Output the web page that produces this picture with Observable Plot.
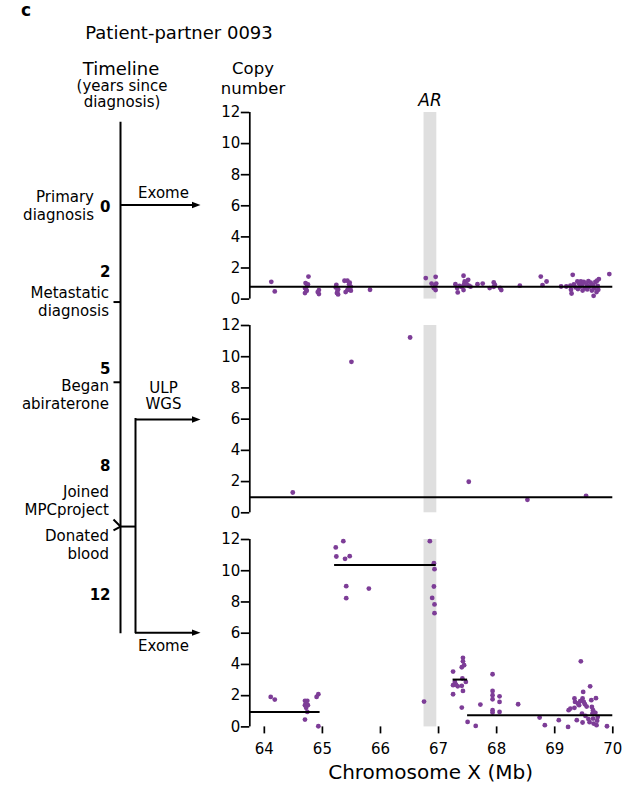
<!DOCTYPE html>
<html><head><meta charset="utf-8">
<script src="https://cdn.jsdelivr.net/npm/d3@7"></script>
<script src="https://cdn.jsdelivr.net/npm/@observablehq/plot@0.6"></script>
<style>
body{margin:0;background:#fff;}
#fig{position:relative;width:635px;height:788px;overflow:hidden;font-family:"DejaVu Sans",sans-serif;color:#000;background:#fff;}
#fig svg{position:absolute;}
.lbl{position:absolute;white-space:pre;color:#000;}
</style></head><body><div id="fig"></div>
<script>
// ---------------- data ----------------
const panelLetter = "c";
const titleText = "Patient-partner 0093";
const xLabel = "Chromosome X (Mb)";
const yLabel = "Copy\nnumber";
const timelineTitle = "Timeline";
const timelineSubtitle = "(years since\ndiagnosis)";
const xDomain = [63.75, 70];
const xTicks = [64, 65, 66, 67, 68, 69, 70];
const yTicks = [0, 2, 4, 6, 8, 10, 12];
const arBand = {gene: "AR", start: 66.75, end: 66.97};

// Sample 1: Exome at diagnosis  [Mb, copy number]
const sample1Points = [
  [64.12,1.11],[64.18,0.49],
  [64.76,1.45],[64.71,1.03],[64.74,0.86],[64.70,0.71],[64.73,0.53],[64.70,0.39],[64.75,0.95],[64.72,0.62],
  [64.94,0.58],[64.94,0.32],[64.92,0.45],
  [65.24,0.92],[65.27,0.64],[65.25,0.39],[65.27,0.30],[65.23,0.75],[65.26,0.52],
  [65.38,1.18],[65.43,1.18],[65.46,0.96],[65.49,0.79],[65.43,0.58],[65.49,0.54],[65.40,0.45],[65.45,0.70],[65.47,1.05],
  [65.82,0.60],
  [66.78,1.35],[66.95,1.43],[66.88,1.00],[66.94,0.86],[66.95,0.58],[66.92,0.70],[66.96,1.00],
  [67.29,0.96],[67.32,0.71],[67.33,0.43],[67.36,0.85],[67.43,1.50],[67.45,1.13],[67.51,1.24],[67.44,0.96],[67.52,0.86],[67.43,0.58],[67.40,0.78],[67.48,1.00],[67.55,0.80],
  [67.67,0.96],[67.76,1.00],[67.88,0.71],[67.95,1.07],[67.95,0.79],[67.97,0.92],[68.08,0.58],[68.06,0.72],
  [68.40,0.86],
  [68.76,1.45],[68.79,0.90],[68.86,1.13],
  [69.11,0.81],[69.20,0.81],[69.27,0.86],[69.29,0.36],[69.31,1.56],[69.28,0.60],[69.33,0.95],
  [69.39,1.13],[69.42,0.98],[69.45,1.13],[69.47,0.90],[69.50,1.10],[69.52,0.70],[69.48,0.55],[69.55,0.95],[69.58,1.15],[69.56,0.62],
  [69.60,0.80],[69.62,1.05],[69.64,0.55],[69.66,0.90],[69.67,0.21],[69.68,0.70],[69.70,1.10],[69.72,0.45],[69.74,0.85],[69.76,1.29],
  [69.73,1.18],[69.75,0.60],[69.40,0.65],[69.44,0.80],[69.36,0.75],
  [69.94,1.61]
];
const sample1Segments = [{x1: 63.75, x2: 70, cn: 0.79}];

// Sample 2: ULP-WGS of donated blood
const sample2Points = [[64.49,1.30],[65.50,9.67],[66.51,11.23],[67.52,1.99],[68.53,0.83],[69.54,1.09]];
const sample2Segments = [{x1: 63.75, x2: 70, cn: 1.00}];

// Sample 3: Exome of donated blood
const sample3Points = [
  [64.11,1.92],[64.18,1.75],
  [64.70,1.67],[64.74,1.67],[64.70,1.39],[64.75,1.39],[64.72,1.22],[64.74,0.96],[64.70,0.47],[64.72,1.50],
  [64.90,1.92],[64.93,2.09],[64.93,0.04],
  [65.23,11.49],[65.36,11.89],[65.24,10.91],[65.39,10.76],[65.47,10.93],[65.41,9.01],[65.41,8.24],[65.80,8.86],
  [66.85,11.89],[66.92,10.48],[66.93,10.10],[66.92,8.99],[66.89,8.26],[66.93,7.84],[66.93,7.28],[66.75,1.62],
  [67.25,3.54],[67.42,4.42],[67.42,4.20],[67.40,3.82],[67.44,3.95],[67.25,2.67],[67.30,2.71],[67.28,2.88],[67.33,2.60],
  [67.41,3.10],[67.47,2.88],[67.40,2.63],[67.42,2.30],[67.25,2.09],[67.40,1.24],[67.50,0.32],[67.64,0.06],[67.72,1.43],
  [67.93,3.37],[67.93,2.30],[67.93,2.03],[67.93,1.77],[67.93,1.07],[67.93,0.92],[68.05,1.96],[68.05,1.60],[68.05,0.96],
  [68.37,1.45],[68.74,0.60],[68.83,0.11],[69.07,0.43],[69.23,0.00],[69.24,1.07],[69.27,1.17],
  [69.34,1.82],[69.35,1.60],[69.42,1.39],[69.34,1.22],[69.38,0.43],[69.45,4.20],[69.49,2.24],[69.48,1.82],[69.50,1.60],
  [69.52,1.45],[69.47,0.85],[69.48,0.28],[69.44,1.65],[69.40,1.50],[69.55,1.30],[69.53,0.70],[69.58,0.50],
  [69.61,2.60],[69.63,1.71],[69.64,1.28],[69.66,1.07],[69.65,0.85],[69.66,0.53],[69.67,0.21],[69.71,1.84],[69.74,0.64],
  [69.72,0.11],[69.70,0.90],[69.73,0.40],[69.60,0.30],
  [69.90,0.04]
];
const sample3Segments = [
  {x1: 63.75, x2: 64.96, cn: 0.96},
  {x1: 65.21, x2: 66.96, cn: 10.36},
  {x1: 67.25, x2: 67.50, cn: 3.03},
  {x1: 67.50, x2: 70.00, cn: 0.75}
];

// Timeline (years since diagnosis)
const timelineYears = [0, 2, 5, 8, 12];
const timelineSpan = [-2.56, 13.25];
const events = [
  {label: "Primary\ndiagnosis", year: 0, labelYear: 0, tickYear: null},
  {label: "Metastatic\ndiagnosis", year: 3.0, labelYear: 2.98, tickYear: 3.0},
  {label: "Began\nabiraterone", year: 5.48, labelYear: 5.84, tickYear: 5.48},
  {label: "Joined\nMPCproject", year: 9.94, labelYear: 9.14, tickYear: 9.72},
  {label: "Donated\nblood", year: 9.94, labelYear: 10.5, tickYear: 10.06}
];
const branchYear = 9.94;
const samples = [
  {label: "Exome", year: 0, labelYear: -0.39, fromBranch: false},
  {label: "ULP\nWGS", year: 6.63, labelYear: 5.89, fromBranch: true},
  {label: "Exome", year: 13.22, labelYear: 13.62, fromBranch: true}
];

// ---------------- drawing ----------------
const fig = document.getElementById("fig");
const FONT = "DejaVu Sans";
const purple = "#7d3d97";
const bandGray = "#dfdfdf";
const svgStyle = {background: "transparent", overflow: "visible", fontFamily: FONT, fontSize: "15px", color: "black"};

function label(text, {cx, left, baseline, size, weight = "normal", italic = false, lh}) {
  const d = document.createElement("div");
  d.className = "lbl";
  d.textContent = text;
  const L = lh || size;
  const top = baseline - ((L - 1.164 * size) / 2 + 0.928 * size);
  d.style.cssText += `font-size:${size}px;line-height:${L}px;font-weight:${weight};font-style:${italic ? "italic" : "normal"};top:${top}px;`;
  if (cx != null) { d.style.left = (cx - 200) + "px"; d.style.width = "400px"; d.style.textAlign = "center"; }
  else { d.style.left = left + "px"; }
  fig.appendChild(d);
}

// timeline diagram
const TLX = 120, BRX = 135, ARROW_END = 200, TICK_LEN = 7;
const arrowHead = {draw(ctx) { ctx.moveTo(0, 0); ctx.lineTo(-8.5, -3.2); ctx.lineTo(-8.5, 3.2); ctx.closePath(); }};
const tl = Plot.plot({
  width: 210, height: 788, margin: 0,
  x: {domain: [0, 210], range: [0, 210], axis: null},
  y: {domain: [0, 12], range: [204.5, 592.7], axis: null},
  style: svgStyle,
  marks: [
    Plot.ruleX([TLX], {y1: timelineSpan[0], y2: timelineSpan[1], strokeWidth: 2}),
    Plot.ruleY([branchYear], {x1: TLX, x2: BRX, strokeWidth: 2}),
    Plot.ruleX([BRX], {y1: samples[1].year, y2: samples[2].year, strokeWidth: 2, strokeLinecap: "square"}),
    Plot.ruleY(samples, {y: "year", x1: d => d.fromBranch ? BRX : TLX, x2: ARROW_END - 6, strokeWidth: 2}),
    Plot.dot(samples, {x: () => ARROW_END, y: "year", symbol: arrowHead, fill: "black", stroke: "none", r: 3}),
    Plot.link(events.filter(d => d.tickYear != null), {x1: () => TLX - TICK_LEN, x2: () => TLX, y1: "tickYear", y2: "year", strokeWidth: 2}),
    Plot.text(events, {x: d => d.year === 0 ? 93.5 : 108.5, y: "labelYear", text: "label", textAnchor: "end", lineHeight: 1.2, fontSize: 15}),
    Plot.text(timelineYears, {x: () => 110, y: d => d, dy: 2, text: d => String(d), textAnchor: "end", fontWeight: "bold", fontSize: 15}),
    Plot.text(samples, {x: () => 163, y: "labelYear", text: "label", textAnchor: "middle", lineHeight: 1.1, fontSize: 15})
  ]
});
tl.style.left = "0px"; tl.style.top = "0px";
fig.appendChild(tl);

// copy-number panels
function panel(points, segments, {top, height, marginBottom, showX}) {
  const marks = [
    Plot.rect([arBand], {x1: "start", x2: "end", y1: 0, y2: 12, fill: bandGray}),
    Plot.dot(points, {x: d => d[0], y: d => d[1], r: 2.4, fill: purple, stroke: "none"}),
    Plot.ruleY(segments, {x1: "x1", x2: "x2", y: "cn", strokeWidth: 2, stroke: "black"}),
    Plot.ruleX([xDomain[0]], {y1: 0, y2: 12, strokeWidth: 1.7}),
    Plot.axisY({ticks: yTicks, tickSize: 8.5, tickPadding: 1, strokeWidth: 1.7, fontSize: 15, label: null, tickFormat: d => String(d)})
  ];
  if (showX) marks.push(Plot.axisX({ticks: xTicks, tickSize: 7, tickPadding: 9, strokeWidth: 1.7, fontSize: 15, label: null, tickFormat: d => String(d)}));
  const p = Plot.plot({
    width: 435, height,
    marginLeft: 49.3, marginRight: 22.7, marginTop: 12, marginBottom,
    x: showX ? {domain: xDomain} : {domain: xDomain, axis: null},
    y: {domain: [0, 12]},
    style: svgStyle,
    marks
  });
  p.style.left = "200px"; p.style.top = top + "px";
  fig.appendChild(p);
}
panel(sample1Points, sample1Segments, {top: 99.7, height: 210.6, marginBottom: 12, showX: false});
panel(sample2Points, sample2Segments, {top: 313, height: 211.3, marginBottom: 12, showX: false});
panel(sample3Points, sample3Segments, {top: 527.3, height: 260.7, marginBottom: 61.3, showX: true});

// text annotations
label(panelLetter, {left: 21, baseline: 16.7, size: 17, weight: "bold"});
label(titleText, {cx: 179, baseline: 39.5, size: 18});
label(timelineTitle, {cx: 121, baseline: 75, size: 18});
label(timelineSubtitle, {cx: 122, baseline: 92, size: 15, lh: 15.7});
label(yLabel, {cx: 253, baseline: 74.5, size: 16.5, lh: 20});
label(arBand.gene, {cx: 430, baseline: 106, size: 17, italic: true});
label(xLabel, {cx: 430.6, baseline: 779, size: 20});
</script></body></html>
